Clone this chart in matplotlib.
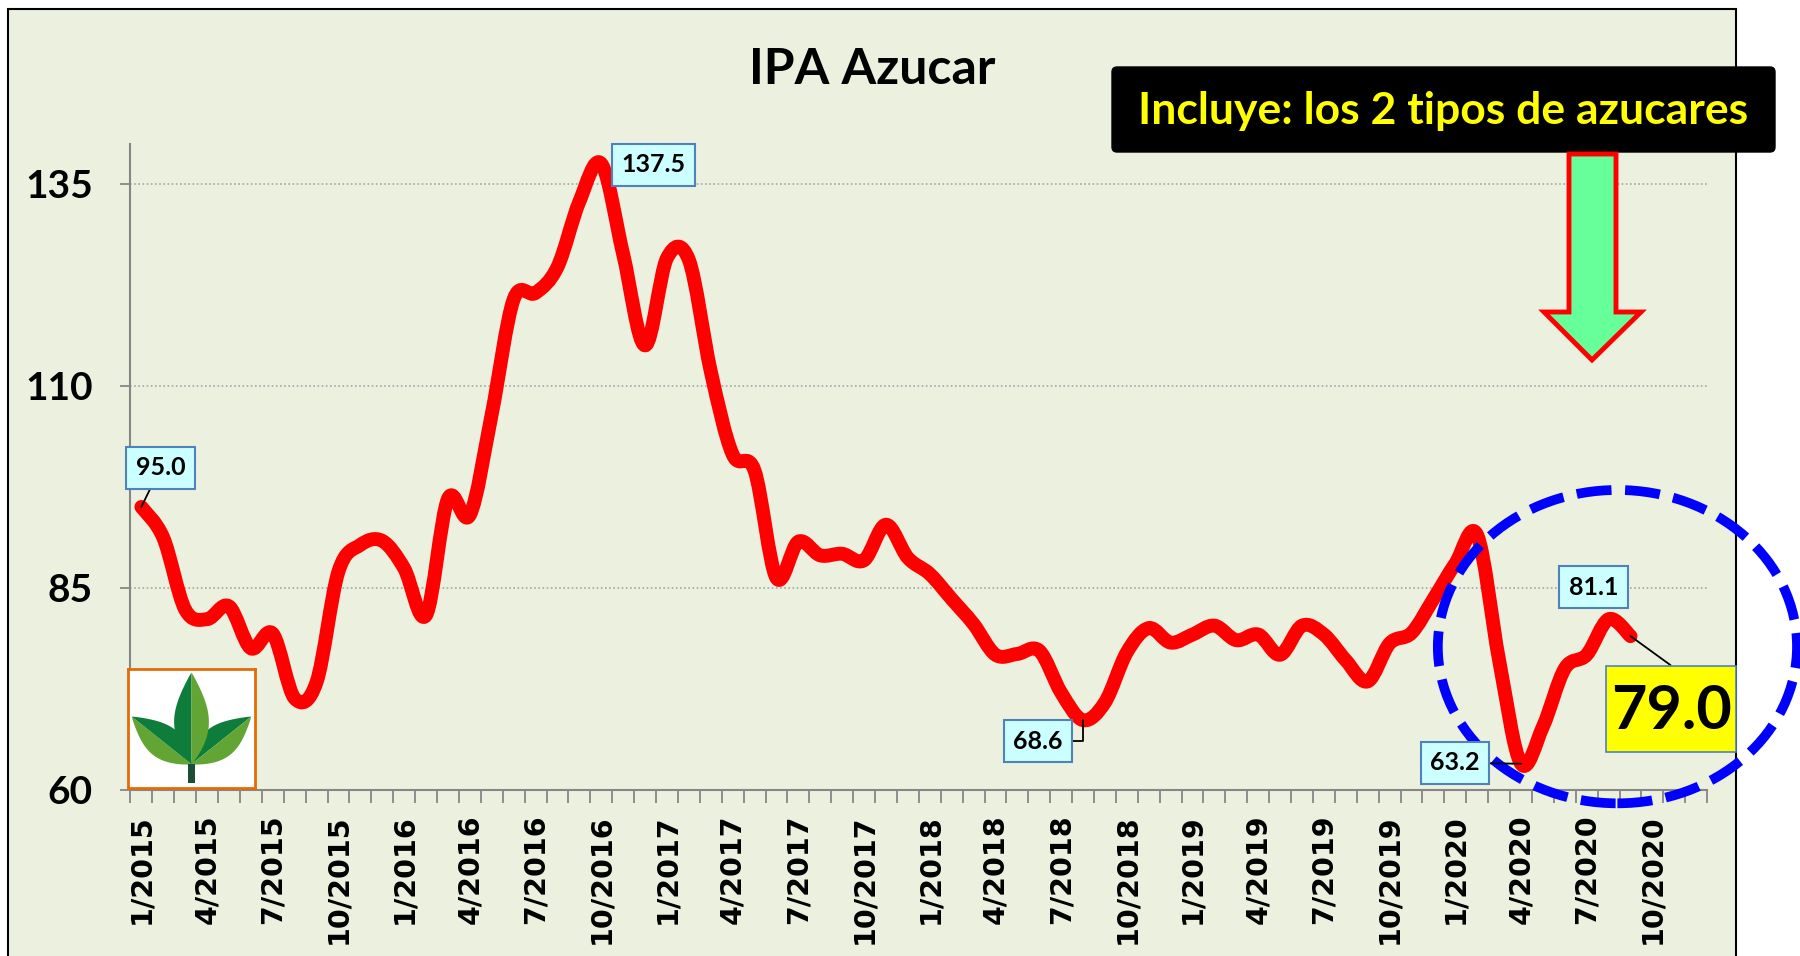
import numpy as np
import matplotlib
matplotlib.use("Agg")
import matplotlib.pyplot as plt
from matplotlib.path import Path
from matplotlib.patches import PathPatch, Rectangle, Ellipse, Polygon, FancyBboxPatch

# IPA azucar, mensual desde 1/2015 hasta 9/2020
ipa_azucar = [
    95.0, 91.2, 82.3, 81.1, 82.7, 77.5, 79.3, 71.3, 73.3, 87.0, 90.3, 90.8,
    87.4, 81.6, 96.0, 94.0, 106.5, 120.7, 121.5, 124.7, 132.8, 137.5, 126.3, 115.0,
    125.8, 125.6, 111.8, 101.5, 99.5, 86.2, 90.7, 89.0, 89.2, 88.4, 92.8, 88.7,
    86.7, 83.6, 80.5, 76.7, 76.8, 77.2, 72.0, 68.6, 70.8, 77.0, 80.0, 78.2,
    79.2, 80.3, 78.5, 79.2, 76.7, 80.3, 79.2, 76.0, 73.4, 78.1, 79.4, 83.6,
    88.0, 91.5, 76.0, 63.2, 67.8, 75.0, 76.7, 81.1, 79.0,
]
n_meses_eje = 72  # el eje llega hasta 12/2020
etiquetas_x = [
    "1/2015", "4/2015", "7/2015", "10/2015", "1/2016", "4/2016", "7/2016", "10/2016",
    "1/2017", "4/2017", "7/2017", "10/2017", "1/2018", "4/2018", "7/2018", "10/2018",
    "1/2019", "4/2019", "7/2019", "10/2019", "1/2020", "4/2020", "7/2020", "10/2020",
]
ticks_y = [60, 85, 110, 135]
# puntos con etiqueta: indice del mes
puntos_etiqueta = [0, 21, 43, 63, 67, 68]

W, H = 1800, 956
fig = plt.figure(figsize=(W / 100, H / 100), dpi=100)
fig.patch.set_facecolor("white")

# area del grafico (fondo verde claro con borde negro)
bg = fig.add_axes([0, 0, 1, 1])
bg.set_xlim(0, W)
bg.set_ylim(H, 0)
bg.axis("off")
bg.add_patch(Rectangle((8, 9), 1728, 980, facecolor="#EBF1DE", edgecolor="black", lw=1.5))

ax = fig.add_axes([130.4 / W, 1 - 789.6 / H, (1707.2 - 130.4) / W, (789.6 - 143.5) / H])
ax.set_facecolor("none")
ax.set_xlim(-0.5, n_meses_eje - 0.5)
ax.set_ylim(60, 140)

# linea suavizada (tipo Excel) con curvas de Bezier
x = np.arange(len(ipa_azucar), dtype=float)
y = np.array(ipa_azucar)
pts = np.column_stack([x, y])
verts = [tuple(pts[0])]
codes = [Path.MOVETO]
for i in range(len(pts) - 1):
    p0 = pts[i - 1] if i > 0 else pts[i]
    p1 = pts[i]
    p2 = pts[i + 1]
    p3 = pts[i + 2] if i + 2 < len(pts) else pts[i + 1]
    c1 = p1 + (p2 - p0) / 6
    c2 = p2 - (p3 - p1) / 6
    verts += [tuple(c1), tuple(c2), tuple(p2)]
    codes += [Path.CURVE4] * 3
linea = PathPatch(Path(verts, codes), fill=False, edgecolor="#FF0000", lw=10,
                  capstyle="round", joinstyle="round", zorder=3)
ax.add_patch(linea)

# ejes
for s in ["top", "right"]:
    ax.spines[s].set_visible(False)
for s in ["left", "bottom"]:
    ax.spines[s].set_color("#868686")
    ax.spines[s].set_linewidth(1.5)

ax.set_yticks(ticks_y)
ax.set_yticklabels([str(t) for t in ticks_y])
ax.tick_params(axis="y", length=7, width=1.3, color="#868686", pad=20)
for lab in ax.get_yticklabels():
    lab.set_fontfamily("Lato")
    lab.set_fontweight("bold")
    lab.set_fontsize(28)
ax.grid(axis="y", color="#A6A6A6", linestyle=(0, (1, 1.5)), lw=1.2)

ax.set_xticks(np.arange(0, 3 * len(etiquetas_x), 3))
ax.set_xticklabels(etiquetas_x, rotation=90, fontsize=20.5, fontweight="bold",
                   fontfamily="DejaVu Sans")
ax.set_xticks(np.arange(-0.5, n_meses_eje, 1), minor=True)
ax.tick_params(axis="x", which="major", length=0, pad=18)
ax.tick_params(axis="x", which="minor", length=9, width=1.3, color="#868686")

# etiquetas de datos
caja = dict(boxstyle="square,pad=0.38", fc="#CCFFFF", ec="#4F81BD", lw=1.5)
flecha = dict(arrowstyle="-", color="black", lw=1.3, shrinkA=0, shrinkB=0)
desplaz = {0: (19, 39), 21: (52, -1), 43: (-45, -21), 63: (-66, 1), 67: (-15, 32)}
for i in puntos_etiqueta[:-1]:
    props = None
    if i in (0, 63):
        props = flecha
    elif i == 43:
        props = dict(flecha, connectionstyle="angle,angleA=0,angleB=90,rad=0")
    ax.annotate(f"{ipa_azucar[i]:.1f}", xy=(i, ipa_azucar[i]), xytext=desplaz[i],
                textcoords="offset pixels", ha="center", va="center",
                fontsize=18, fontweight="bold",
                fontfamily="Lato", bbox=caja, arrowprops=props, zorder=6,
                annotation_clip=False)

# ultimo valor: linea guia hasta el recuadro amarillo
ult = puntos_etiqueta[-1]
ax.annotate("", xy=(ult, ipa_azucar[ult]), xytext=(40, -29),
            textcoords="offset pixels", arrowprops=flecha, zorder=6,
            annotation_clip=False)

# elipse azul punteada
ax.add_patch(Ellipse((67.4, 77.7), 16.4, 38.8, fill=False, ec="#0000FF", lw=7,
                     ls=(0, (3.6, 1.4)), clip_on=False, zorder=5))

# titulo, recuadro negro, flecha y recuadro amarillo
ov = fig.add_axes([0, 0, 1, 1])
ov.set_xlim(0, W)
ov.set_ylim(H, 0)
ov.axis("off")
ov.text(872, 69, "IPA Azucar", ha="center", va="center", fontsize=36,
        fontweight="bold", fontfamily="Lato")
ov.add_patch(FancyBboxPatch((1112, 67), 663, 85, boxstyle="round,pad=0,rounding_size=5",
                            fc="black", ec="black"))
ov.text(1443, 111, "Incluye: los 2 tipos de azucares", ha="center", va="center",
        fontsize=32, fontweight="bold", fontfamily="Lato", color="#FFFF00")
ov.add_patch(Polygon([(1569, 154), (1616, 154), (1616, 312), (1641, 312), (1592, 360),
                      (1544, 312), (1569, 312)], closed=True, fc="#66FF99", ec="#FF0000",
                     lw=3.5, joinstyle="miter"))
ov.add_patch(Rectangle((1606, 666), 130, 86, fc="#FFFF00", ec="#4F81BD", lw=1.2))
ov.text(1671, 711, f"{ipa_azucar[ult]:.1f}", ha="center", va="center", fontsize=44,
        fontweight="bold", fontfamily="Lato")

# logo (hojas)
lg = fig.add_axes([128 / W, 1 - 788 / H, 127 / W, 119 / H])
lg.set_xlim(0, 1)
lg.set_ylim(0, 1)
lg.set_xticks([])
lg.set_yticks([])
for s in lg.spines.values():
    s.set_color("#E36C09")
    s.set_linewidth(2)


def hoja(base, punta, ancho, c_izq, c_der):
    b = np.array(base)
    t = np.array(punta)
    d = t - b
    nrm = np.array([-d[1], d[0]]) / np.hypot(*d)
    s = np.linspace(0, 1, 40)
    w = ancho * np.sin(np.pi * s) ** 0.9 * (1 - 0.3 * s)
    eje = b + np.outer(s, d)
    izq = eje + np.outer(w, nrm)
    der = eje - np.outer(w, nrm)
    lg.add_patch(Polygon(np.vstack([eje, izq[::-1]]), closed=True, fc=c_izq, ec="none"))
    lg.add_patch(Polygon(np.vstack([eje, der[::-1]]), closed=True, fc=c_der, ec="none"))


verde_osc = "#0E7C3A"
verde_cla = "#62A534"
hoja((0.5, 0.2), (0.03, 0.6), 0.16, verde_cla, verde_osc)
hoja((0.5, 0.2), (0.97, 0.6), 0.16, verde_osc, verde_cla)
hoja((0.5, 0.2), (0.5, 0.97), 0.16, verde_osc, verde_cla)
lg.add_patch(Rectangle((0.47, 0.04), 0.06, 0.16, fc="#1E4D35", ec="none"))

fig.savefig("out.png", dpi=100, facecolor="white")
